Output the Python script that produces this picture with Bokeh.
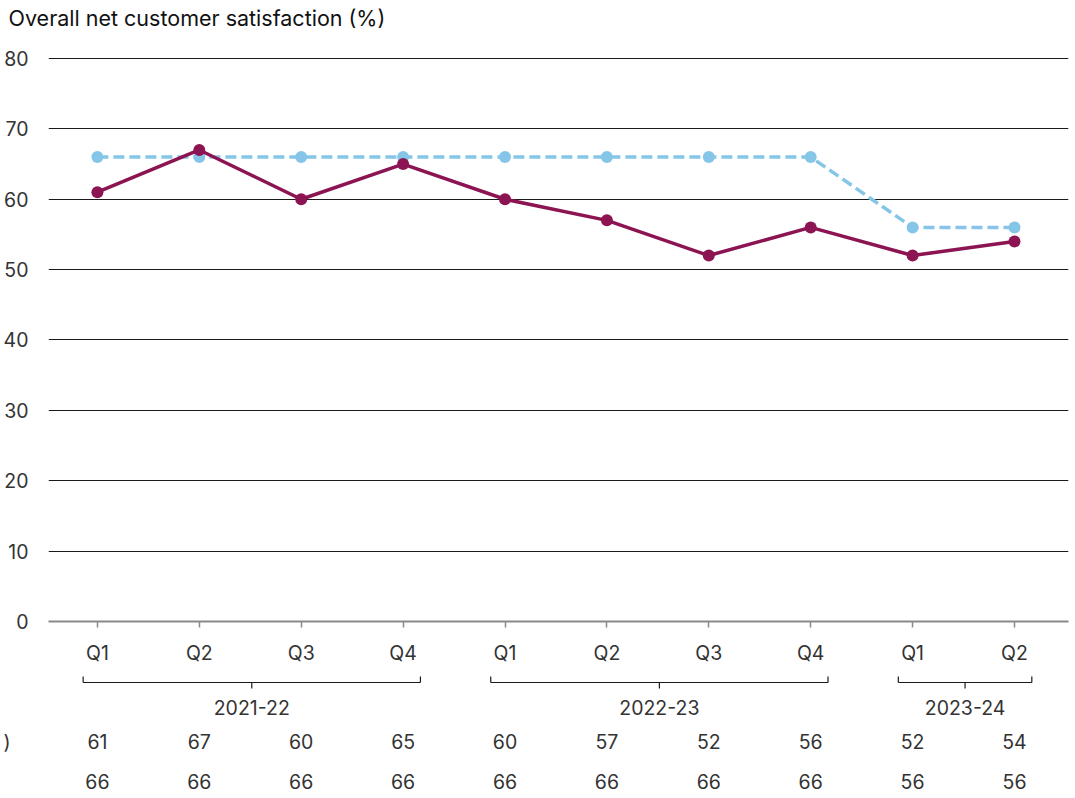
from bokeh.plotting import figure
from bokeh.layouts import column
from bokeh.models import Range1d, FixedTicker, ColumnDataSource, Title
from bokeh.core.properties import value
from bokeh.embed import file_html
from bokeh.resources import INLINE

# ---- data -------------------------------------------------------------
quarters = ["Q1", "Q2", "Q3", "Q4", "Q1", "Q2", "Q3", "Q4", "Q1", "Q2"]
years = ["2021-22", "2021-22", "2021-22", "2021-22",
         "2022-23", "2022-23", "2022-23", "2022-23",
         "2023-24", "2023-24"]
satisfaction = [61, 67, 60, 65, 60, 57, 52, 56, 52, 54]
target = [66, 66, 66, 66, 66, 66, 66, 66, 56, 56]
y_ticks = [0, 10, 20, 30, 40, 50, 60, 70, 80]
title_text = "Overall net customer satisfaction (%)"
row_label = ")"

# ---- styling ----------------------------------------------------------
FONT = "Inter"
FS = "19.5px"
TEXT = "#333333"
MAROON = "#8c1452"
BLUE = "#85c6e8"

idx = list(range(len(quarters)))
LEFT, RIGHT = 46, 9
FRAME_W, FRAME_H = 1020, 564
X0, X1 = -0.48, 9.53

src = ColumnDataSource(dict(x=idx, q=quarters, sat=satisfaction, tgt=target))

p = figure(width=1075, height=668, frame_width=FRAME_W, frame_height=FRAME_H,
           x_range=Range1d(X0, X1), y_range=Range1d(0, 80.14),
           output_backend="svg", toolbar_location=None,
           min_border_left=LEFT, min_border_right=RIGHT,
           min_border_top=57, min_border_bottom=47)
p.outline_line_color = None
p.background_fill_color = "white"
p.border_fill_color = "white"

# spacer between the heading and the plot area, then the heading itself
p.add_layout(Title(text=" ", standoff=22, text_font_size="1px"), "above")
p.add_layout(Title(text=title_text, text_font=FONT, text_font_size="21.5px",
                   text_font_style="normal", text_color="#111111",
                   align="left", offset=-40, standoff=4), "above")

# y axis: labels only, black gridlines
p.yaxis.ticker = FixedTicker(ticks=y_ticks)
p.yaxis.axis_line_color = None
p.yaxis.major_tick_line_color = None
p.yaxis.minor_tick_line_color = None
p.yaxis.major_label_text_font = FONT
p.yaxis.major_label_text_font_size = FS
p.yaxis.major_label_text_color = TEXT
p.yaxis.major_label_standoff = 14
p.ygrid.ticker = FixedTicker(ticks=y_ticks[1:])
p.ygrid.grid_line_color = "#1a1a1a"
p.ygrid.grid_line_width = 1
p.xgrid.grid_line_color = None

# x axis: quarter labels
p.xaxis.ticker = FixedTicker(ticks=idx)
p.xaxis.major_label_overrides = {i: q for i, q in enumerate(quarters)}
p.xaxis.axis_line_color = "#8a8a8a"
p.xaxis.axis_line_width = 2
p.xaxis.major_tick_line_color = "#8a8a8a"
p.xaxis.major_tick_line_width = 1.5
p.xaxis.major_tick_in = 0
p.xaxis.major_tick_out = 6
p.xaxis.minor_tick_line_color = None
p.xaxis.major_label_text_font = FONT
p.xaxis.major_label_text_font_size = FS
p.xaxis.major_label_text_color = TEXT
p.xaxis.major_label_standoff = 13

# series
p.line("x", "tgt", source=src, line_color=BLUE, line_width=3.5, line_dash="11 5")
p.scatter("x", "tgt", source=src, size=12, fill_color=BLUE, line_color=None)
p.line("x", "sat", source=src, line_color=MAROON, line_width=3.5)
p.scatter("x", "sat", source=src, size=12, fill_color=MAROON, line_color=None)

# ---- year brackets and value table -------------------------------------
H2 = 130
q = figure(width=1075, height=H2, frame_width=FRAME_W, frame_height=H2,
           output_backend="svg", toolbar_location=None,
           x_range=p.x_range, y_range=Range1d(H2, 0),
           min_border_left=LEFT, min_border_right=RIGHT,
           min_border_top=0, min_border_bottom=0)
q.outline_line_color = None
q.xaxis.visible = False
q.grid.grid_line_color = None

BR_Y, BR_UP, BR_DOWN, YEAR_Y, ROW1_Y, ROW2_Y = 14, 8, 20, 39, 73, 113

# row caption on the left of the table
q.yaxis.ticker = FixedTicker(ticks=[ROW1_Y])
q.yaxis.major_label_overrides = {ROW1_Y: row_label}
q.yaxis.axis_line_color = None
q.yaxis.major_tick_line_color = None
q.yaxis.minor_tick_line_color = None
q.yaxis.major_tick_out = 0
q.yaxis.major_label_text_font = FONT
q.yaxis.major_label_text_font_size = FS
q.yaxis.major_label_text_color = TEXT
q.yaxis.major_label_standoff = 38

groups = []
for i, y in enumerate(years):
    if not groups or groups[-1][0] != y:
        groups.append([y, i, i])
    else:
        groups[-1][2] = i

bx0 = [g[1] - 0.14 for g in groups]
bx1 = [g[2] + 0.17 for g in groups]
bmid = [(a + b) / 2 for a, b in zip(bx0, bx1)]
line_kw = dict(line_color="#1a1a1a", line_width=1.2)
q.segment(bx0, [BR_Y] * len(groups), bx1, [BR_Y] * len(groups), **line_kw)
q.segment(bx0, [BR_Y] * len(groups), bx0, [BR_UP] * len(groups), **line_kw)
q.segment(bx1, [BR_Y] * len(groups), bx1, [BR_UP] * len(groups), **line_kw)
q.segment(bmid, [BR_Y] * len(groups), bmid, [BR_DOWN] * len(groups), **line_kw)

txt_kw = dict(text_font=value(FONT), text_font_size=FS, text_color=TEXT,
              text_align="center", text_baseline="middle")
q.text(x=bmid, y=[YEAR_Y] * len(groups), text=[g[0] for g in groups], **txt_kw)
q.text(x=idx, y=[ROW1_Y] * len(idx), text=[str(v) for v in satisfaction], **txt_kw)
q.text(x=idx, y=[ROW2_Y] * len(idx), text=[str(v) for v in target], **txt_kw)

layout = column(p, q, spacing=0)
open("out.html", "w").write(file_html(layout, INLINE))
